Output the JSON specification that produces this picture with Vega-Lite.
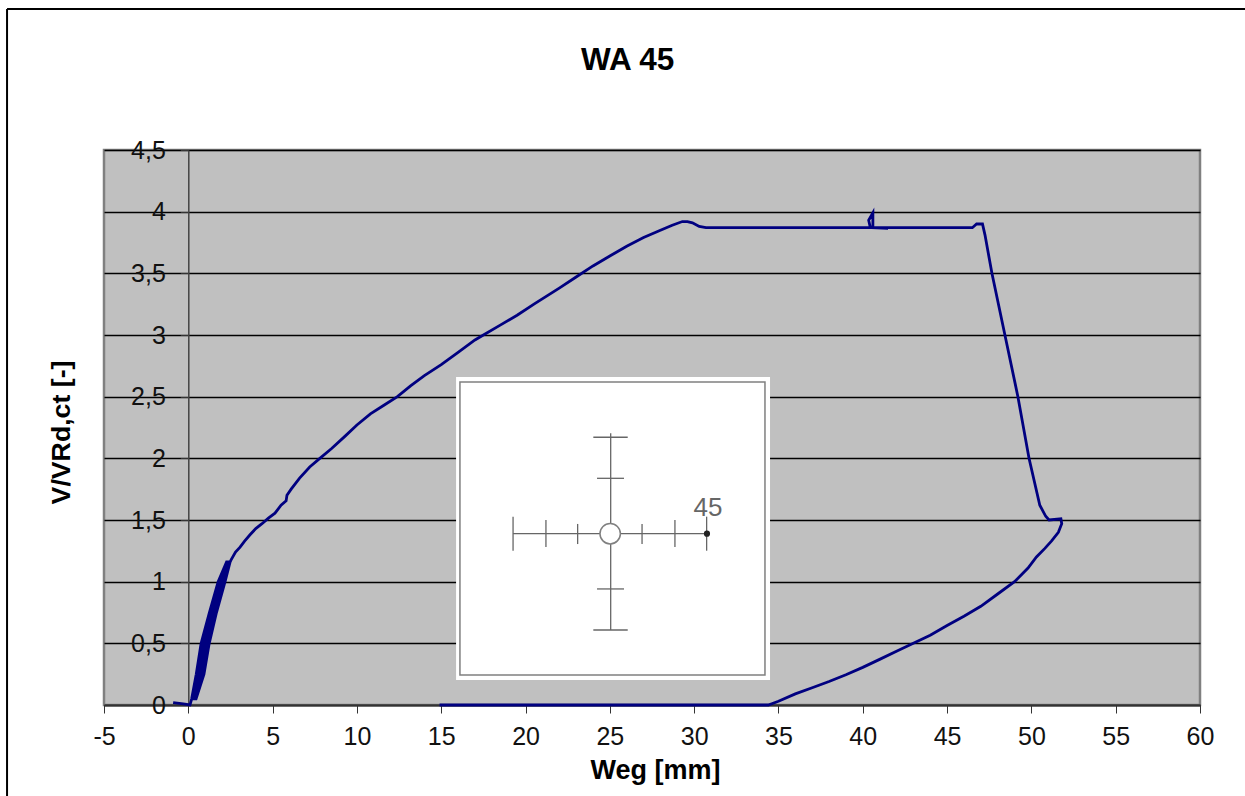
{"$schema":"https://vega.github.io/schema/vega-lite/v6.json","width":1096,"height":555,"padding":{"left":104,"top":150,"right":45,"bottom":91},"autosize":"none","background":"#ffffff","title":{"text":"WA 45","font":"Liberation Sans","fontSize":31.5,"fontWeight":"bold","color":"#000000","anchor":"start","frame":"group","dx":477,"dy":93,"baseline":"alphabetic","offset":0},"config":{"view":{"fill":"#c0c0c0","stroke":"#808080","strokeWidth":2.5}},"datasets":{"curve":[{"o":1,"x":-0.9,"y":0.02},{"o":2,"x":-0.3,"y":0.01},{"o":3,"x":0.1,"y":0},{"o":4,"x":0.2,"y":0.05},{"o":5,"x":0.47,"y":0.25},{"o":6,"x":0.76,"y":0.5},{"o":7,"x":1.25,"y":0.75},{"o":8,"x":1.77,"y":1},{"o":9,"x":2.27,"y":1.16},{"o":10,"x":2.32,"y":1.16},{"o":11,"x":1.87,"y":1},{"o":12,"x":1.35,"y":0.75},{"o":13,"x":0.9,"y":0.5},{"o":14,"x":0.6,"y":0.25},{"o":15,"x":0.27,"y":0.05},{"o":16,"x":0.33,"y":0.05},{"o":17,"x":0.7,"y":0.25},{"o":18,"x":1,"y":0.5},{"o":19,"x":1.46,"y":0.75},{"o":20,"x":1.97,"y":1},{"o":21,"x":2.37,"y":1.16},{"o":22,"x":2.43,"y":1.16},{"o":23,"x":2.08,"y":1},{"o":24,"x":1.56,"y":0.75},{"o":25,"x":1.1,"y":0.5},{"o":26,"x":0.8,"y":0.25},{"o":27,"x":0.4,"y":0.05},{"o":28,"x":0.46,"y":0.05},{"o":29,"x":0.93,"y":0.25},{"o":30,"x":1.24,"y":0.5},{"o":31,"x":1.67,"y":0.75},{"o":32,"x":2.18,"y":1},{"o":33,"x":2.48,"y":1.16},{"o":34,"x":2.53,"y":1.175},{"o":35,"x":2.8,"y":1.24},{"o":36,"x":3.07,"y":1.28},{"o":37,"x":3.35,"y":1.33},{"o":38,"x":3.66,"y":1.38},{"o":39,"x":4,"y":1.43},{"o":40,"x":4.37,"y":1.47},{"o":41,"x":4.75,"y":1.515},{"o":42,"x":5.14,"y":1.555},{"o":43,"x":5.5,"y":1.62},{"o":44,"x":5.8,"y":1.655},{"o":45,"x":5.85,"y":1.7},{"o":46,"x":6.1,"y":1.75},{"o":47,"x":6.6,"y":1.84},{"o":48,"x":7.2,"y":1.93},{"o":49,"x":7.8,"y":2},{"o":50,"x":8.5,"y":2.08},{"o":51,"x":9.3,"y":2.18},{"o":52,"x":10,"y":2.27},{"o":53,"x":10.8,"y":2.36},{"o":54,"x":11.6,"y":2.43},{"o":55,"x":12.4,"y":2.5},{"o":56,"x":13.2,"y":2.59},{"o":57,"x":14,"y":2.67},{"o":58,"x":15,"y":2.76},{"o":59,"x":16,"y":2.86},{"o":60,"x":17,"y":2.96},{"o":61,"x":17.5,"y":3},{"o":62,"x":18.5,"y":3.08},{"o":63,"x":19.5,"y":3.16},{"o":64,"x":20.5,"y":3.25},{"o":65,"x":22,"y":3.38},{"o":66,"x":23,"y":3.47},{"o":67,"x":24,"y":3.56},{"o":68,"x":25,"y":3.64},{"o":69,"x":26,"y":3.72},{"o":70,"x":27,"y":3.79},{"o":71,"x":28,"y":3.85},{"o":72,"x":28.7,"y":3.89},{"o":73,"x":29.3,"y":3.92},{"o":74,"x":29.6,"y":3.92},{"o":75,"x":29.9,"y":3.91},{"o":76,"x":30.3,"y":3.88},{"o":77,"x":30.7,"y":3.87},{"o":78,"x":31,"y":3.87},{"o":79,"x":40.45,"y":3.87},{"o":80,"x":40.35,"y":3.93},{"o":81,"x":40.6,"y":3.99},{"o":82,"x":40.6,"y":3.87},{"o":83,"x":41.5,"y":3.865},{"o":84,"x":40.6,"y":3.87},{"o":85,"x":46.5,"y":3.87},{"o":86,"x":46.75,"y":3.9},{"o":87,"x":47.1,"y":3.9},{"o":88,"x":47.25,"y":3.81},{"o":89,"x":47.66,"y":3.5},{"o":90,"x":48.43,"y":3},{"o":91,"x":49.2,"y":2.5},{"o":92,"x":49.86,"y":2},{"o":93,"x":50.5,"y":1.62},{"o":94,"x":50.85,"y":1.53},{"o":95,"x":51.05,"y":1.5},{"o":96,"x":51.75,"y":1.51},{"o":97,"x":51.8,"y":1.47},{"o":98,"x":51.6,"y":1.4},{"o":99,"x":51.2,"y":1.33},{"o":100,"x":50.8,"y":1.27},{"o":101,"x":50.3,"y":1.2},{"o":102,"x":49.8,"y":1.11},{"o":103,"x":49,"y":1},{"o":104,"x":48,"y":0.9},{"o":105,"x":47,"y":0.8},{"o":106,"x":46,"y":0.72},{"o":107,"x":45,"y":0.645},{"o":108,"x":44,"y":0.565},{"o":109,"x":43,"y":0.5},{"o":110,"x":42,"y":0.435},{"o":111,"x":41,"y":0.37},{"o":112,"x":40,"y":0.305},{"o":113,"x":39,"y":0.245},{"o":114,"x":38,"y":0.19},{"o":115,"x":37,"y":0.14},{"o":116,"x":36,"y":0.09},{"o":117,"x":35,"y":0.03},{"o":118,"x":34.4,"y":0},{"o":119,"x":14.9,"y":0}],"inset":[{"x":19.26,"x2":30.74,"y":1.389,"y2":1.389},{"x":25.05,"x2":25.05,"y":2.203,"y2":0.608},{"x":19.26,"x2":19.26,"y":1.527,"y2":1.251},{"x":21.21,"x2":21.21,"y":1.5,"y2":1.281},{"x":23.09,"x2":23.09,"y":1.468,"y2":1.305},{"x":26.91,"x2":26.91,"y":1.468,"y2":1.305},{"x":28.86,"x2":28.86,"y":1.5,"y2":1.281},{"x":30.74,"x2":30.74,"y":1.527,"y2":1.251},{"x":24.02,"x2":26.06,"y":2.171,"y2":2.171},{"x":24.24,"x2":25.84,"y":1.838,"y2":1.838},{"x":24.24,"x2":25.84,"y":0.941,"y2":0.941},{"x":24.02,"x2":26.06,"y":0.608,"y2":0.608}],"frame":[{"x":-10.75,"x2":-10.75,"y":5.643,"y2":-0.74},{"x":-10.75,"x2":62.7,"y":5.643,"y2":5.643}]},"encoding":{"x":{"field":"x","type":"quantitative","scale":{"domain":[-5,60],"nice":false,"zero":false},"axis":{"values":[-5,0,5,10,15,20,25,30,35,40,45,50,55,60],"labelExpr":"replace(datum.label,'−','-')","title":"Weg [mm]","titleFont":"Liberation Sans","titleFontSize":27,"titleFontWeight":"bold","titleColor":"#000000","titleX":551,"titleY":73,"titleBaseline":"alphabetic","labelFont":"Liberation Sans","labelFontSize":25,"labelColor":"#111111","labelPadding":11,"tickColor":"#333333","tickSize":8,"domainColor":"#333333","domainWidth":2,"grid":false,"labelFlush":false,"labelOverlap":false}},"y":{"field":"y","type":"quantitative","scale":{"domain":[0,4.5],"nice":false,"zero":false},"axis":{"values":[0,0.5,1,1.5,2,2.5,3,3.5,4,4.5],"labelExpr":"replace(datum.label,'.',',')","format":"~g","offset":-84.3,"title":"V/VRd,ct [-]","titleFont":"Liberation Sans","titleFontSize":26.7,"titleFontWeight":"bold","titleColor":"#000000","titleX":-119,"titleY":282,"titleBaseline":"alphabetic","labelFont":"Liberation Sans","labelFontSize":25,"labelColor":"#111111","labelPadding":15,"tickColor":"#333333","tickSize":8,"domainColor":"#444444","domainWidth":1.5,"grid":true,"gridColor":"#000000","gridWidth":1.3,"gridOpacity":1,"labelOverlap":false}}},"layer":[{"mark":{"type":"rule","stroke":"#000000","strokeWidth":2},"data":{"name":"frame"},"encoding":{"x2":{"field":"x2"},"y2":{"field":"y2"}}},{"mark":{"type":"line","stroke":"#000080","strokeWidth":2.8,"interpolate":"linear","clip":false},"data":{"name":"curve"},"encoding":{"order":{"field":"o","type":"quantitative"}}},{"mark":{"type":"rect","fill":"#ffffff"},"data":{"values":[{"x":15.88,"x2":34.5,"y":2.66,"y2":0.203}]},"encoding":{"x2":{"field":"x2"},"y2":{"field":"y2"}}},{"mark":{"type":"rect","fill":"#ffffff","stroke":"#808080","strokeWidth":1.5},"data":{"values":[{"x":16.11,"x2":34.2,"y":2.619,"y2":0.243}]},"encoding":{"x2":{"field":"x2"},"y2":{"field":"y2"}}},{"mark":{"type":"rule","stroke":"#666666","strokeWidth":1.3},"data":{"name":"inset"},"encoding":{"x2":{"field":"x2"},"y2":{"field":"y2"}}},{"mark":{"type":"point","shape":"circle","size":415,"filled":true,"fill":"#ffffff","stroke":"#808080","strokeWidth":1.5,"opacity":1},"data":{"values":[{"x":25.02,"y":1.389}]}},{"mark":{"type":"point","shape":"circle","size":38,"filled":true,"fill":"#222222","opacity":1},"data":{"values":[{"x":30.76,"y":1.389}]}},{"mark":{"type":"text","font":"Liberation Sans","fontSize":26,"fill":"#666666","align":"center","baseline":"alphabetic"},"data":{"values":[{"x":30.82,"y":1.532,"t":"45"}]},"encoding":{"text":{"field":"t"}}}]}
